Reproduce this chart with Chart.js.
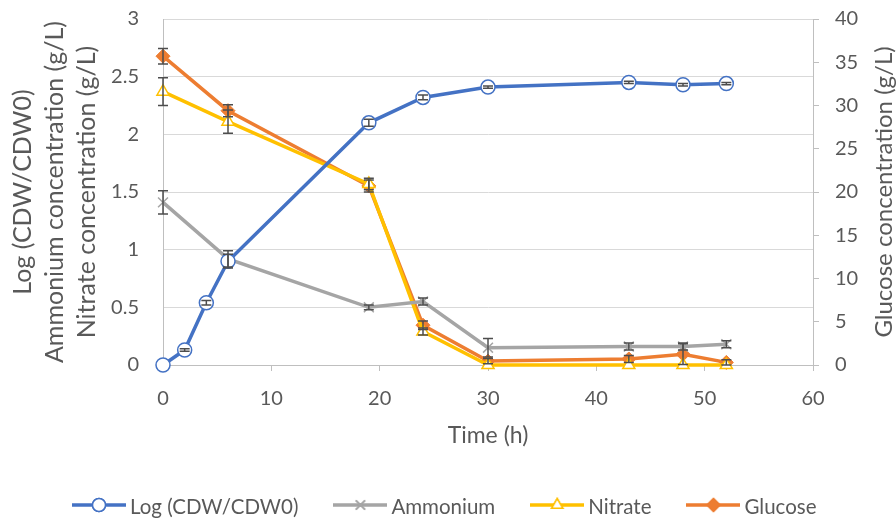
<!DOCTYPE html>
<html lang="en">
<head>
  <meta charset="utf-8" />
  <title>Growth and substrate consumption</title>
  <script src="https://cdn.jsdelivr.net/npm/chart.js"></script>
  <style>
    html, body { margin: 0; padding: 0; background: #fff; }
    #wrap { width: 896px; height: 520px; }
  </style>
</head>
<body>
  <div id="wrap"><canvas id="chart"></canvas></div>
  <script>
    // sampling times (h)
    const cdwTimes = [0, 2, 4, 6, 19, 24, 30, 43, 48, 52];
    const logCdw = [0, 0.13, 0.54, 0.90, 2.10, 2.32, 2.41, 2.45, 2.43, 2.44];
    const logCdwErr = [0, 0.01, 0.02, 0.06, 0.03, 0.02, 0.01, 0.01, 0.01, 0.01];

    const mediumTimes = [0, 6, 19, 24, 30, 43, 48, 52];
    const ammonium = [1.41, 0.92, 0.50, 0.55, 0.15, 0.16, 0.16, 0.18];
    const ammoniumErr = [0.10, 0.07, 0.02, 0.03, 0.08, 0.03, 0.03, 0.03];
    const nitrate = [2.37, 2.11, 1.57, 0.29, 0, 0, 0, 0];
    const nitrateErr = [0.12, 0.10, 0.05, 0.03, 0, 0, 0, 0];
    const glucose = [35.7, 29.4, 20.7, 4.6, 0.45, 0.7, 1.25, 0.3];
    const glucoseErr = [0.9, 0.7, 0.7, 0.5, 0.3, 0.4, 1.2, 0.3];

    const txt = '#595959';
    const axisGray = '#BFBFBF';
    const font = 'Lato, "Open Sans", sans-serif';

    const toXY = (xs, ys) => xs.map((x, i) => ({ x: x, y: ys[i] }));

    // legend sample: a short line with the marker in the middle
    function legendIcon(color, style, fill) {
      const c = document.createElement('canvas');
      c.width = 54; c.height = 18;
      const g = c.getContext('2d');
      g.strokeStyle = color; g.lineWidth = 3.5;
      g.beginPath(); g.moveTo(0, 9); g.lineTo(54, 9); g.stroke();
      g.lineWidth = 1.5;
      Chart.helpers.drawPoint(g, { pointStyle: style, radius: 6.5, rotation: 0, borderWidth: 1.5 }, 27, 9);
      g.fillStyle = fill; g.fill();
      g.stroke();
      return c;
    }

    const errorBars = {
      id: 'errorBars',
      afterDatasetsDraw(chart) {
        const ctx = chart.ctx;
        chart.data.datasets.forEach((ds, i) => {
          if (!ds.errors) return;
          const meta = chart.getDatasetMeta(i);
          const ys = chart.scales[ds.yAxisID];
          ctx.save();
          ctx.strokeStyle = '#4D4D4D';
          ctx.lineWidth = 1.5;
          meta.data.forEach((pt, j) => {
            const e = ds.errors[j];
            if (!e) return;
            const v = ds.data[j].y;
            const top = ys.getPixelForValue(v + e);
            const bot = ys.getPixelForValue(Math.max(v - e, ys.min));
            ctx.beginPath();
            ctx.moveTo(pt.x, top); ctx.lineTo(pt.x, bot);
            ctx.moveTo(pt.x - 5, top); ctx.lineTo(pt.x + 5, top);
            if (v - e >= ys.min) { ctx.moveTo(pt.x - 5, bot); ctx.lineTo(pt.x + 5, bot); }
            ctx.stroke();
          });
          ctx.restore();
        });
      }
    };

    // right-hand title reads bottom to top, like the left one
    const rightTitle = {
      id: 'rightTitle',
      afterDraw(chart) {
        const a = chart.chartArea;
        const ctx = chart.ctx;
        ctx.save();
        ctx.translate(884, (a.top + a.bottom) / 2);
        ctx.rotate(-Math.PI / 2);
        ctx.fillStyle = txt;
        ctx.font = '24px ' + font;
        ctx.textAlign = 'center';
        ctx.textBaseline = 'middle';
        ctx.fillText('Glucose concentration (g/L)', 0, 0);
        ctx.restore();
      }
    };

    // legend row under the axis: line sample with marker, then the name
    const lineLegend = {
      id: 'lineLegend',
      afterDraw(chart) {
        const ctx = chart.ctx;
        const y = 505;
        let x = 72;
        ctx.save();
        ctx.font = '20.5px ' + font;
        ctx.fillStyle = txt;
        ctx.textBaseline = 'middle';
        chart.data.datasets.forEach(ds => {
          ctx.drawImage(ds.icon, x, y - 9);
          ctx.fillText(ds.label, x + 58, y + 2);
          x += 58 + ctx.measureText(ds.label).width + 35;
        });
        ctx.restore();
      }
    };

    const datasets = [
      {
        label: 'Log (CDW/CDW0)',
        data: toXY(cdwTimes, logCdw),
        errors: logCdwErr,
        yAxisID: 'y',
        borderColor: '#4472C4',
        backgroundColor: '#FFFFFF',
        pointStyle: 'circle',
        pointRadius: 7,
        pointBorderWidth: 1.5,
        icon: legendIcon('#4472C4', 'circle', '#FFFFFF')
      },
      {
        label: 'Ammonium',
        data: toXY(mediumTimes, ammonium),
        errors: ammoniumErr,
        yAxisID: 'y',
        borderColor: '#A5A5A5',
        backgroundColor: '#A5A5A5',
        pointStyle: 'crossRot',
        pointRadius: 7,
        pointBorderWidth: 1.5,
        icon: legendIcon('#A5A5A5', 'crossRot', '#A5A5A5')
      },
      {
        label: 'Nitrate',
        data: toXY(mediumTimes, nitrate),
        errors: nitrateErr,
        yAxisID: 'y',
        borderColor: '#FFC000',
        backgroundColor: '#FFFFFF',
        pointStyle: 'triangle',
        pointRadius: 7,
        pointBorderWidth: 1.5,
        icon: legendIcon('#FFC000', 'triangle', '#FFFFFF')
      },
      {
        label: 'Glucose',
        data: toXY(mediumTimes, glucose),
        errors: glucoseErr,
        yAxisID: 'y2',
        borderColor: '#ED7D31',
        backgroundColor: '#ED7D31',
        pointStyle: 'rectRot',
        pointRadius: 7,
        pointBorderWidth: 1,
        icon: legendIcon('#ED7D31', 'rectRot', '#ED7D31')
      }
    ];
    datasets.forEach(d => { d.borderWidth = 3.5; d.clip = false; d.tension = 0; });

    new Chart(document.getElementById('chart'), {
      type: 'line',
      data: { datasets: datasets },
      plugins: [errorBars, rightTitle, lineLegend],
      options: {
        responsive: true,
        maintainAspectRatio: false,
        animation: false,
        layout: { padding: { top: 19, bottom: 55 } },
        plugins: {
          tooltip: { enabled: false },
          legend: { display: false }
        },
        scales: {
          x: {
            type: 'linear',
            min: 0, max: 60,
            ticks: { stepSize: 10, color: txt, font: { family: font, size: 20 }, padding: 16 },
            grid: { drawOnChartArea: false, drawTicks: true, tickLength: 6, color: axisGray },
            border: { color: axisGray },
            title: { display: true, text: 'Time (h)', color: txt, font: { family: font, size: 23 }, padding: { top: 0, bottom: 16 } },
            afterFit(s) { s.height = 100; }
          },
          y: {
            position: 'left',
            min: 0, max: 3,
            ticks: { stepSize: 0.5, color: txt, font: { family: font, size: 20 }, padding: 24, callback: v => String(v) },
            grid: { color: '#D9D9D9', drawTicks: false },
            border: { color: axisGray },
            title: {
              display: true,
              text: ['Log (CDW/CDW0)', 'Ammonium concentration (g/L)', 'Nitrate concentration (g/L)'],
              color: txt,
              font: { family: font, size: 25, lineHeight: 1.28 },
              padding: { top: 7, bottom: 0 }
            },
            afterFit(s) { s.width = 163; s.paddingTop = 0; s.paddingBottom = 0; }
          },
          y2: {
            position: 'right',
            min: 0, max: 40,
            ticks: { stepSize: 5, color: txt, font: { family: font, size: 20 }, padding: 16 },
            grid: { drawOnChartArea: false, drawTicks: true, tickLength: 6, color: axisGray },
            border: { color: axisGray },
            title: { display: false },
            afterFit(s) { s.width = 83; s.paddingTop = 0; s.paddingBottom = 0; }
          }
        }
      }
    });
  </script>
</body>
</html>
